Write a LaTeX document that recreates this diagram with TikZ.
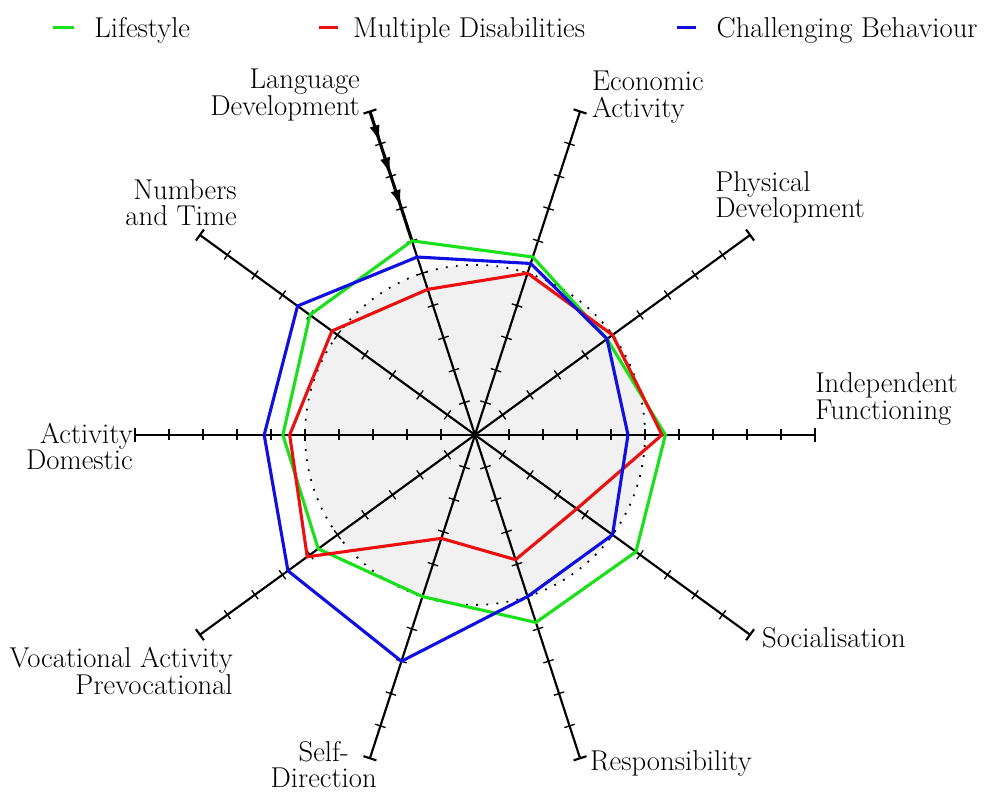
\documentclass[tikz,border=0pt]{standalone}
\usepackage{amsmath,amssymb}
\usepackage{tikz}
\usetikzlibrary{arrows.meta, positioning, decorations.markings}

\definecolor{lifegreen}{RGB}{25,225,25}
\definecolor{multired}{RGB}{235,15,15}
\definecolor{challblue}{RGB}{15,15,225}
\definecolor{normgray}{RGB}{241,241,241}

\begin{document}
\begin{tikzpicture}[
        axis/.style={line width=1.8pt},
        tickbar/.style={line width=1.1pt},
        series/.style={line width=2.6pt},
        txt/.style={font=\fontsize{24}{22}\selectfont, inner sep=0pt},
        keyline/.style={line width=2.6pt}
    ]
        \useasboundingbox (-13.97,-10.56) rectangle (14.97,12.79);

        % norm circle
        \path[fill=normgray, draw=black, line width=1.5pt, dash pattern=on 1.5pt off 7pt] (0,0) circle (5);

        % axes with ticks
        \foreach \a/\n in {0/indep, 36/phys, 72/econ, 108/lang, 144/numb, 180/dome, 216/voca, 252/self, 288/resp, 324/soci} {
            \coordinate (\n) at (\a:10);
            \draw[axis] (0,0) -- (\n);
            \foreach \k in {1,...,9}
                \draw[tickbar, rotate=\a] (\k,-0.16) -- (\k,0.16);
            \draw[axis, rotate=\a] (10,-0.2) -- (10,0.2);
        }
        \draw[axis, line width=2.6pt, postaction={decorate}, decoration={markings,
            mark=at position 0.25 with {\arrow{Latex[length=5.5mm, width=3mm]}},
            mark=at position 0.5 with {\arrow{Latex[length=5.5mm, width=3mm]}},
            mark=at position 0.75 with {\arrow{Latex[length=5.5mm, width=3mm]}}}]
            (lang) -- (108:6);

        % profiles
        \draw[series, lifegreen] (0:5.6) -- (36:4.8) -- (72:5.5) -- (108:6.0) -- (144:6.0) -- (180:5.65) -- (216:5.7) -- (252:5.0) -- (288:5.8) -- (324:5.85) -- cycle;
        \draw[series, multired] (0:5.5) -- (36:5.0) -- (72:5.0) -- (108:4.5) -- (144:5.2) -- (180:5.45) -- (216:6.1) -- (252:3.2) -- (288:3.86) -- (324:3.7) -- cycle;
        \draw[series, challblue] (0:4.5) -- (36:4.8) -- (72:5.3) -- (108:5.5) -- (144:6.45) -- (180:6.2) -- (216:6.8) -- (252:7.0) -- (288:5.0) -- (324:5.0) -- cycle;

        % axis labels
        \node[txt, align=left, anchor=west]   (indeplbl) at (10.0,1.06)    {Independent\\Functioning};
        \node[txt, align=left, anchor=west]   (physlbl)  at (7.06,6.99)    {Physical\\Development};
        \node[txt, align=left, anchor=west]   (econlbl)  at (3.44,9.93)    {Economic\\Activity};
        \node[txt, align=right, anchor=east]  (langlbl)  at (-3.38,10.0)   {Language\\Development};
        \node[txt, align=right, anchor=east]  (numblbl)  at (-7.0,6.82)    {Numbers\\and Time};
        \node[txt, align=right, anchor=east]  (domelbl)  at (-10.06,-0.35) {Activity\\Domestic};
        \node[txt, align=right, anchor=east]  (vocalbl)  at (-7.12,-6.94)  {Vocational Activity\\Prevocational};
        \node[txt, align=center]              (selflbl)  at (-4.45,-9.7)   {Self-\\Direction};
        \node[txt, anchor=west]               (resplbl)  at (3.38,-9.65)   {Responsibility};
        \node[txt, anchor=west]               (socilbl)  at (8.44,-5.97)   {Socialisation};

        % legend
        \node[txt, anchor=west] (lifestyle) at (-11.2,11.91) {Lifestyle};
        \node[txt, anchor=west] (multiple)  at (-3.59,11.91) {Multiple Disabilities};
        \node[txt, anchor=west] (challeng)  at (7.1,11.91)   {Challenging Behaviour};
        \draw[keyline, lifegreen] ([xshift=-0.6cm, yshift=0.06cm]lifestyle.west) -- ++(-0.62,0);
        \draw[keyline, multired]  ([xshift=-0.44cm, yshift=0.06cm]multiple.west) -- ++(-0.56,0);
        \draw[keyline, challblue] ([xshift=-0.6cm, yshift=0.06cm]challeng.west) -- ++(-0.56,0);
    \end{tikzpicture}
\end{document}
